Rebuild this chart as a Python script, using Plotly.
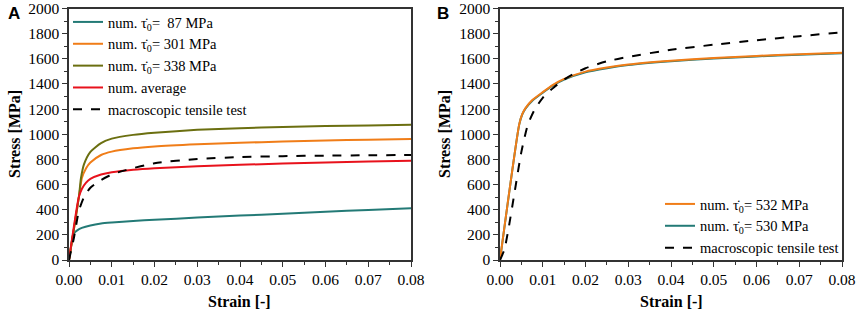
import plotly.graph_objects as go

# ---------------- Panel A data ----------------
a_strain_87 = [0, 0.0009, 0.0012, 0.002, 0.003, 0.005, 0.0075, 0.01, 0.015, 0.02, 0.03, 0.04, 0.05, 0.06, 0.07, 0.08]
a_stress_87 = [0, 190, 215, 238, 255, 275, 290, 298, 310, 320, 337, 353, 368, 384, 398, 412]

a_strain_301 = [0, 0.0024, 0.003, 0.004, 0.005, 0.0075, 0.01, 0.015, 0.02, 0.03, 0.04, 0.05, 0.06, 0.07, 0.08]
a_stress_301 = [0, 520, 650, 730, 775, 835, 862, 888, 903, 920, 932, 942, 950, 957, 963]

a_strain_338 = [0, 0.0023, 0.0028, 0.0035, 0.005, 0.0075, 0.01, 0.015, 0.02, 0.03, 0.04, 0.05, 0.06, 0.07, 0.08]
a_stress_338 = [0, 500, 650, 760, 860, 930, 965, 995, 1012, 1035, 1048, 1057, 1065, 1070, 1075]

a_strain_avg = [0, 0.0023, 0.003, 0.004, 0.005, 0.0075, 0.01, 0.015, 0.02, 0.03, 0.04, 0.05, 0.06, 0.07, 0.08]
a_stress_avg = [0, 500, 565, 615, 645, 680, 698, 718, 730, 745, 757, 767, 776, 783, 789]

a_strain_exp = [0, 0.0012, 0.0023, 0.0035, 0.005, 0.0075, 0.01, 0.0133, 0.02, 0.03, 0.04, 0.05, 0.06, 0.07, 0.08]
a_stress_exp = [0, 185, 390, 500, 575, 636, 680, 715, 770, 803, 818, 826, 830, 833, 835]

# ---------------- Panel B data ----------------
b_strain_532 = [0, 0.0045, 0.0052, 0.006, 0.0075, 0.01, 0.0125, 0.015, 0.02, 0.025, 0.03, 0.04, 0.05, 0.06, 0.07, 0.08]
b_stress_532 = [0, 1080, 1160, 1210, 1270, 1335, 1395, 1440, 1498, 1530, 1555, 1585, 1607, 1623, 1637, 1648]

b_strain_530 = [0, 0.0045, 0.0052, 0.006, 0.0075, 0.01, 0.0125, 0.015, 0.02, 0.025, 0.03, 0.04, 0.05, 0.06, 0.07, 0.08]
b_stress_530 = [0, 1078, 1157, 1206, 1265, 1330, 1390, 1435, 1493, 1525, 1550, 1580, 1602, 1619, 1633, 1644]

b_strain_exp = [0, 0.001, 0.002, 0.0035, 0.005, 0.0065, 0.008, 0.01, 0.0125, 0.015, 0.0175, 0.02, 0.025, 0.03, 0.04, 0.05, 0.06, 0.07, 0.08]
b_stress_exp = [0, 80, 250, 556, 860, 1075, 1190, 1290, 1370, 1435, 1485, 1525, 1580, 1615, 1672, 1712, 1748, 1780, 1810]

x_ticks = [0, 0.01, 0.02, 0.03, 0.04, 0.05, 0.06, 0.07, 0.08]
x_ticklabels = ["0.00", "0.01", "0.02", "0.03", "0.04", "0.05", "0.06", "0.07", "0.08"]
y_ticks = [0, 200, 400, 600, 800, 1000, 1200, 1400, 1600, 1800, 2000]

TEAL = "#237a76"
ORANGE = "#f07d18"
OLIVE = "#6b6f10"
RED = "#e8121c"
BLACK = "#000000"

TAU = "\u03c4\u0307<sub>0</sub>"
SERIF = "Liberation Serif"

fig = go.Figure()

def line(x, y, name, color, xa, ya, legend, dash="solid", rank=None, width=2):
    fig.add_trace(go.Scatter(
        x=x, y=y, name=name, mode="lines",
        line=dict(color=color, width=width, dash=dash, shape="spline", smoothing=0.6),
        xaxis=xa, yaxis=ya, legend=legend, legendrank=rank if rank else 1000,
    ))

line(a_strain_87, a_stress_87, "num. " + TAU + "=  87 MPa", TEAL, "x", "y", "legend", rank=1)
line(a_strain_301, a_stress_301, "num. " + TAU + "= 301 MPa", ORANGE, "x", "y", "legend", rank=2)
line(a_strain_338, a_stress_338, "num. " + TAU + "= 338 MPa", OLIVE, "x", "y", "legend", rank=3)
line(a_strain_avg, a_stress_avg, "num. average", RED, "x", "y", "legend", rank=4)
line(a_strain_exp, a_stress_exp, "macroscopic tensile test", BLACK, "x", "y", "legend", dash="dash", rank=5)

line(b_strain_530, b_stress_530, "num. " + TAU + "= 530 MPa", TEAL, "x2", "y2", "legend2", rank=2)
line(b_strain_532, b_stress_532, "num. " + TAU + "= 532 MPa", ORANGE, "x2", "y2", "legend2", rank=1)
line(b_strain_exp, b_stress_exp, "macroscopic tensile test", BLACK, "x2", "y2", "legend2", dash="dash", rank=3)

W, H = 857, 317
xdomA = [69 / W, 411 / W]
xdomB = [500 / W, 842 / W]
ydom = [(H - 260) / H, (H - 8.5) / H]

fig.update_layout(
    width=W, height=H,
    margin=dict(l=0, r=0, t=0, b=0),
    paper_bgcolor="white", plot_bgcolor="white",
    font=dict(family=SERIF, size=15, color="#000"),
    xaxis=dict(domain=xdomA, anchor="y"),
    yaxis=dict(domain=ydom, anchor="x"),
    xaxis2=dict(domain=xdomB, anchor="y2"),
    yaxis2=dict(domain=ydom, anchor="x2"),
    legend=dict(x=68 / W, y=1 - 6 / H, xanchor="left", yanchor="top",
                bgcolor="rgba(0,0,0,0)", font=dict(family=SERIF, size=14.5, color="#000"),
                traceorder="normal"),
    legend2=dict(x=844 / W, y=1 - 264 / H, xanchor="right", yanchor="bottom",
                 bgcolor="rgba(0,0,0,0)", font=dict(family=SERIF, size=14.5, color="#000"),
                 traceorder="normal"),
    showlegend=True,
)

common = dict(
    showgrid=False, zeroline=False, showline=True, linecolor="#333333", linewidth=1.5,
    mirror=True, ticks="outside", ticklen=5, tickwidth=1.2, tickcolor="#333333",
    automargin=False, ticklabeloverflow="allow",
)
fig.update_xaxes(**common, range=[0, 0.08], tickmode="array", tickvals=x_ticks, ticktext=x_ticklabels,
                 minor=dict(ticks="outside", ticklen=3, tickwidth=1, tickcolor="#333333", dtick=0.005))
fig.update_yaxes(**common, range=[0, 2000], tickmode="array", tickvals=y_ticks,
                 minor=dict(ticks="outside", ticklen=3, tickwidth=1, tickcolor="#333333", dtick=100))
fig.update_xaxes(tickfont=dict(family=SERIF, size=15.5, color="#000"))
fig.update_yaxes(tickfont=dict(family=SERIF, size=15.5, color="#000"))

ann_font = dict(family=SERIF, size=16, color="#000")
for xc in [240, 671]:
    fig.add_annotation(text="<b>Strain [-]</b>", x=xc / W, y=1 - 301 / H, xref="paper", yref="paper",
                       showarrow=False, font=ann_font, xanchor="center", yanchor="middle")
for xc in [14, 444]:
    fig.add_annotation(text="<b>Stress [MPa]</b>", x=xc / W, y=1 - 134 / H, xref="paper", yref="paper",
                       showarrow=False, font=ann_font, textangle=-90, xanchor="center", yanchor="middle")
for xc, lab in [(6, "A"), (435, "B")]:
    fig.add_annotation(text="<b>" + lab + "</b>", x=xc / W, y=1 - 2 / H, xref="paper", yref="paper",
                       showarrow=False, font=dict(family="Liberation Sans", size=17, color="#000"),
                       xanchor="left", yanchor="top")

fig.write_html("out.html", config={"displayModeBar": False},
               post_script="document.body.style.margin='0';document.body.style.overflow='hidden';")
